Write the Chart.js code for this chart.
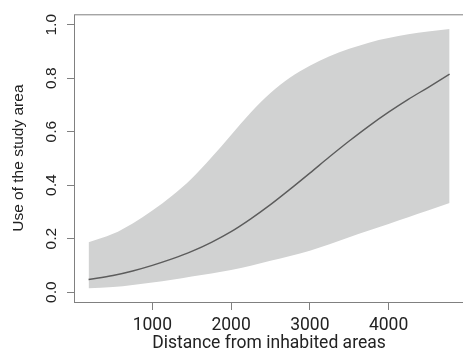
<!DOCTYPE html>
<html>
<head>
<meta charset="utf-8">
<script src="https://cdn.jsdelivr.net/npm/chart.js@4/dist/chart.umd.min.js"></script>
<style>
  html, body { margin: 0; padding: 0; background: #fff; overflow: hidden; }
  #wrap { position: relative; width: 466px; height: 355px; }
</style>
</head>
<body>
<div id="wrap"><canvas id="useChart"></canvas></div>
<script>
/* ------------------------------------------------------------
   DATA
------------------------------------------------------------ */
const distance = [190, 500, 750, 1000, 1250, 1500, 1750, 2000, 2250, 2500, 2750, 3000, 3250, 3500, 3750, 4000, 4250, 4500, 4775];
const meanUse  = [0.047, 0.062, 0.079, 0.100, 0.124, 0.152, 0.186, 0.226, 0.274, 0.327, 0.385, 0.445, 0.506, 0.565, 0.621, 0.673, 0.721, 0.765, 0.815];
const lowerCI  = [0.014, 0.019, 0.027, 0.036, 0.046, 0.058, 0.070, 0.083, 0.099, 0.117, 0.135, 0.155, 0.179, 0.205, 0.230, 0.255, 0.280, 0.305, 0.333];
const upperCI  = [0.186, 0.218, 0.257, 0.305, 0.360, 0.425, 0.503, 0.588, 0.672, 0.745, 0.803, 0.847, 0.882, 0.910, 0.933, 0.950, 0.964, 0.975, 0.984];

const xTicks = [1000, 2000, 3000, 4000];
const yTicks = [0.0, 0.2, 0.4, 0.6, 0.8, 1.0];

const toPoints = ys => distance.map((d, i) => ({ x: d, y: ys[i] }));

// draws the R-style box round the plot area
const boxPlugin = {
    id: "plotBox",
    afterDatasetsDraw(chart) {
        const a = chart.chartArea;
        const ctx = chart.ctx;
        ctx.save();
        ctx.strokeStyle = "#808080";
        ctx.lineWidth = 1;
        ctx.strokeRect(a.left + 0.5, a.top + 0.5, a.right - a.left, a.bottom - a.top);
        ctx.restore();
    }
};

const ctx = document.getElementById("useChart").getContext("2d");

new Chart(ctx, {
    type: "line",
    data: {
        datasets: [
            {
                label: "upper",
                data: toPoints(upperCI),
                borderWidth: 0,
                pointRadius: 0,
                backgroundColor: "#d1d2d2",
                fill: "+1",
                cubicInterpolationMode: "monotone",
                order: 2
            },
            {
                label: "lower",
                data: toPoints(lowerCI),
                borderWidth: 0,
                pointRadius: 0,
                fill: false,
                cubicInterpolationMode: "monotone",
                order: 2
            },
            {
                label: "mean",
                data: toPoints(meanUse),
                borderColor: "#5c5c5c",
                borderWidth: 1.4,
                pointRadius: 0,
                fill: false,
                cubicInterpolationMode: "monotone",
                order: 0
            }
        ]
    },
    options: {
        responsive: true,
        maintainAspectRatio: false,
        animation: false,
        layout: { padding: { top: 10, right: 2, left: 0, bottom: 0 } },
        plugins: {
            legend: { display: false },
            tooltip: { enabled: false }
        },
        scales: {
            x: {
                type: "linear",
                min: 5,
                max: 4958,
                afterFit: s => { s.height = 53; },
                afterBuildTicks: s => { s.ticks = xTicks.map(v => ({ value: v })); },
                border: { display: false },
                grid: { drawOnChartArea: false, drawTicks: true, tickLength: 8, color: "#808080" },
                ticks: {
                    color: "#222",
                    font: { family: "Roboto", size: 17.5 },
                    padding: 5,
                    maxRotation: 0,
                    callback: v => String(v)
                },
                title: {
                    display: true,
                    text: "Distance from inhabited areas",
                    color: "#222",
                    font: { family: "Roboto", size: 17.5 },
                    padding: { top: 0, bottom: 1 }
                }
            },
            y: {
                type: "linear",
                min: -0.037,
                max: 1.039,
                afterFit: s => { s.width = 74; },
                afterBuildTicks: s => { s.ticks = yTicks.map(v => ({ value: v })); },
                border: { display: false },
                grid: { drawOnChartArea: false, drawTicks: true, tickLength: 7, color: "#808080" },
                ticks: {
                    color: "#222",
                    font: { family: "Liberation Sans", size: 15.5 },
                    minRotation: 90,
                    maxRotation: 90,
                    crossAlign: "center",
                    padding: 5,
                    callback: v => v.toFixed(1)
                },
                title: {
                    display: true,
                    text: "Use of the study area",
                    color: "#222",
                    font: { family: "Liberation Sans", size: 15.5 },
                    padding: { top: 9, bottom: 0 }
                }
            }
        }
    },
    plugins: [boxPlugin]
});
</script>
</body>
</html>
